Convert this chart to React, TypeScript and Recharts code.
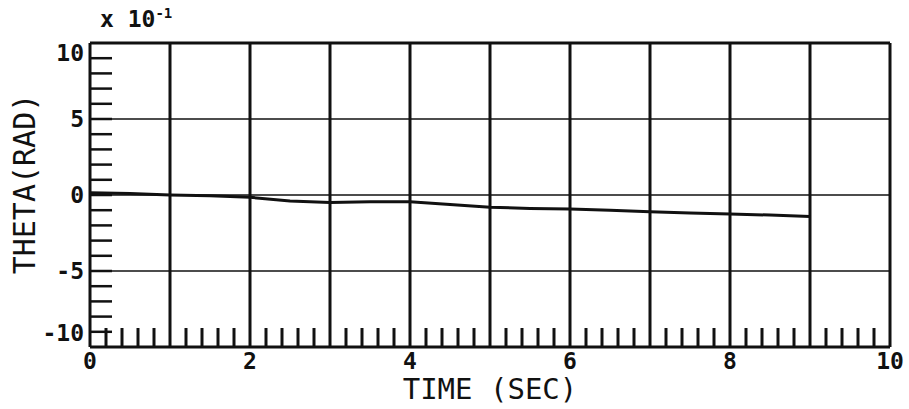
import {
  Line,
  LineChart,
  ReferenceLine,
  XAxis,
  YAxis,
} from "recharts";

// theta in units of 1e-1 rad
const TIME = [0, 0.5, 1, 1.5, 2, 2.5, 3, 3.5, 4, 4.5, 5, 5.5, 6, 6.5, 7, 7.5, 8, 8.5, 9];
const THETA = [
  0.15, 0.1, 0, -0.05, -0.15, -0.4, -0.5, -0.45, -0.45, -0.62, -0.8, -0.88, -0.92,
  -1.0, -1.1, -1.18, -1.25, -1.32, -1.42,
];

const X_TICKS = [0, 2, 4, 6, 8, 10];
const Y_TICKS = [-10, -5, 0, 5, 10];
const X_GRID = [1, 2, 3, 4, 5, 6, 7, 8, 9, 10];
const Y_GRID = [-5, 0, 5];

const FONT = '"DejaVu Sans Mono", monospace';
const INK = "#111";

const data = TIME.map((t, i) => ({ t, theta: THETA[i] }));

// short tick marks: every 0.2 s along the bottom, every unit along the left
const xMinor: number[] = [];
for (let i = 1; i < 50; i++) {
  if (i % 5 !== 0) xMinor.push(i / 5);
}
const yMinor: number[] = [];
for (let v = -9; v <= 9; v++) yMinor.push(v);

function XTick({ x, y, payload }: any) {
  return (
    <text
      x={x}
      y={y + 14}
      textAnchor="middle"
      fontFamily={FONT}
      fontSize={23}
      fontWeight="bold"
      fill={INK}
    >
      {payload.value}
    </text>
  );
}

function YTick({ x, y, payload }: any) {
  const v = payload.value;
  // end labels sit inside the frame
  const shift = v === 10 ? 10 : v === -10 ? -14 : 0;
  return (
    <text
      x={x + 1}
      y={y + shift + 8}
      textAnchor="end"
      fontFamily={FONT}
      fontSize={23}
      fontWeight="bold"
      fill={INK}
    >
      {v}
    </text>
  );
}

function YTitle({ viewBox }: any) {
  const cx = viewBox.x + 24;
  const cy = viewBox.y + viewBox.height / 2 - 11;
  return (
    <text
      x={cx}
      y={cy}
      transform={`rotate(-90, ${cx}, ${cy})`}
      textAnchor="middle"
      dominantBaseline="central"
      fontFamily={FONT}
      fontSize={30}
      fill={INK}
    >
      THETA(RAD)
    </text>
  );
}

function XTitle({ viewBox }: any) {
  return (
    <text
      x={viewBox.x + viewBox.width / 2}
      y={viewBox.y + 52}
      textAnchor="middle"
      fontFamily={FONT}
      fontSize={29}
      fill={INK}
    >
      TIME (SEC)
    </text>
  );
}

export default function App() {
  return (
    <div
      style={{
        position: "absolute",
        left: 0,
        top: 0,
        width: 909,
        height: 409,
        background: "#fff",
      }}
    >
      <div
        style={{
          position: "absolute",
          left: 100,
          top: 8,
          fontFamily: FONT,
          fontSize: 23,
          lineHeight: "23px",
          fontWeight: "bold",
          color: INK,
          whiteSpace: "pre",
        }}
      >
        x 10
        <span style={{ fontSize: 14, position: "relative", top: -9 }}>-1</span>
      </div>
      <LineChart
        width={909}
        height={409}
        data={data}
        margin={{ top: 43, right: 19, bottom: 0, left: 0 }}
      >
        <XAxis
          type="number"
          dataKey="t"
          domain={[0, 10]}
          ticks={X_TICKS}
          interval={0}
          height={62}
          tickLine={false}
          axisLine={{ stroke: INK, strokeWidth: 3 }}
          tick={<XTick />}
          label={<XTitle />}
        />
        <YAxis
          type="number"
          domain={[-10, 10]}
          ticks={Y_TICKS}
          interval={0}
          width={90}
          tickLine={false}
          tickSize={5}
          axisLine={{ stroke: INK, strokeWidth: 3 }}
          tick={<YTick />}
          label={<YTitle />}
        />

        <ReferenceLine y={10} stroke={INK} strokeWidth={3} />
        {Y_GRID.map((v) => (
          <ReferenceLine key={`h${v}`} y={v} stroke={INK} strokeWidth={1.6} />
        ))}
        {X_GRID.map((v) => (
          <ReferenceLine key={`v${v}`} x={v} stroke={INK} strokeWidth={3} />
        ))}
        {xMinor.map((v) => (
          <ReferenceLine
            key={`mx${v}`}
            segment={[
              { x: v, y: -10 },
              { x: v, y: -8.75 },
            ]}
            stroke={INK}
            strokeWidth={3}
          />
        ))}
        {yMinor.map((v) => (
          <ReferenceLine
            key={`my${v}`}
            segment={[
              { x: 0, y: v },
              { x: 0.275, y: v },
            ]}
            stroke={INK}
            strokeWidth={2.5}
          />
        ))}

        <Line
          type="linear"
          dataKey="theta"
          stroke={INK}
          strokeWidth={3}
          dot={false}
          isAnimationActive={false}
        />
      </LineChart>
    </div>
  );
}
